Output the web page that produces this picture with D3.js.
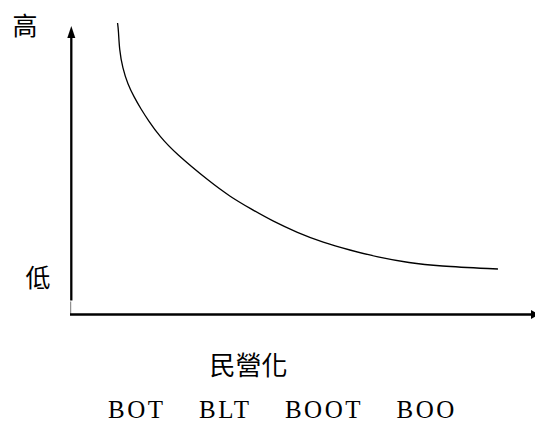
<!DOCTYPE html>
<html><head><meta charset="utf-8">
<script src="https://cdn.jsdelivr.net/npm/d3@7"></script>
<style>html,body{margin:0;padding:0;background:#fff;}</style>
</head><body>
<script>
// data
const categories = ["BOT", "BLT", "BOOT", "BOO"];
const curveX = [9.9, 10.1, 10.3, 11.0, 12.1, 13.5, 15.0, 16.6, 19.1, 22.4, 30.0, 34.4, 38.7, 43.8, 48.9, 54.6, 60.4, 66.3, 73.5, 79.3, 92.6];
const curveY = [97.0, 94.7, 88.0, 82.0, 76.7, 72.3, 68.3, 64.5, 59.1, 53.7, 44.0, 39.1, 35.2, 30.8, 27.2, 23.8, 21.3, 19.0, 17.0, 16.0, 15.0];
const axisLabels = { high: "高", low: "低", x: "民營化" };

const W = 535, H = 424;
const svg = d3.select("body").append("svg").attr("width", W).attr("height", H);

const x = d3.scaleLinear().domain([0, 100]).range([72, 532]);
const y = d3.scaleLinear().domain([0, 100]).range([314, 14]);

// axes
svg.append("line").attr("x1", 71.3).attr("x2", 71.3).attr("y1", 300.5).attr("y2", 36)
  .attr("stroke", "#000").attr("stroke-width", 2.3);
svg.append("path").attr("d", "M71.3,26 L67.3,38 L75.3,38 Z").attr("fill", "#000");
svg.append("line").attr("x1", 70.7).attr("x2", 70.7).attr("y1", 301.5).attr("y2", 314)
  .attr("stroke", "#777").attr("stroke-width", 1);
svg.append("line").attr("x1", 70).attr("x2", 533).attr("y1", 314.5).attr("y2", 314.5)
  .attr("stroke", "#000").attr("stroke-width", 2.5);
svg.append("path").attr("d", "M531,310 L539,314.5 L531,319 Z").attr("fill", "#000");

// curve
const pts = curveX.map((d, i) => [d, curveY[i]]);
svg.append("path").datum(pts)
  .attr("d", d3.line().x(d => x(d[0])).y(d => y(d[1])).curve(d3.curveBasis))
  .attr("fill", "none").attr("stroke", "#000").attr("stroke-width", 1.3);

// labels
const cjk = "'Noto Sans CJK TC','Noto Sans CJK SC',sans-serif";
svg.append("text").text(axisLabels.high).attr("x", 25).attr("y", 24)
  .attr("text-anchor", "middle").attr("dominant-baseline", "central")
  .style("font-family", cjk).style("font-size", "25px");
svg.append("text").text(axisLabels.low).attr("x", 38).attr("y", 276)
  .attr("text-anchor", "middle").attr("dominant-baseline", "central")
  .style("font-family", cjk).style("font-size", "25px");
svg.append("text").text(axisLabels.x).attr("x", 248.5).attr("y", 363)
  .attr("text-anchor", "middle").attr("dominant-baseline", "central")
  .style("font-family", cjk).style("font-size", "26px");

// category labels laid out in one line with equal gaps
const gap = 36;
let cx = 108;
categories.forEach(c => {
  const t = svg.append("text").text(c).attr("x", cx).attr("y", 418)
    .style("font-family", "'Liberation Serif','Times New Roman',serif")
    .style("font-size", "25px").style("letter-spacing", "2.5px");
  const len = t.node().getComputedTextLength();
  cx += len - 2.5 + gap;
});
</script>
</body></html>
